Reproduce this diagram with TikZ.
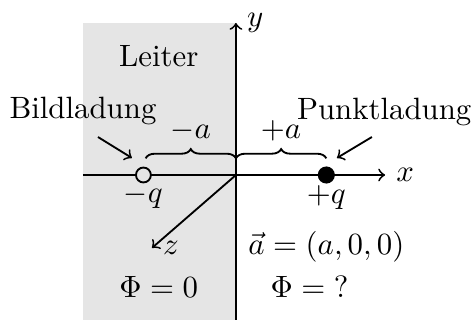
\documentclass[tikz,border=0pt]{standalone}
\usepackage{amsmath}
\usetikzlibrary{decorations.pathreplacing, positioning}

\begin{document}
\begin{tikzpicture}[
  axis/.style={->, semithick},
  leiter/.style={fill=gray!20},
  imgcharge/.style={circle, draw, semithick, fill=gray!20, inner sep=0pt, minimum size=0.17cm},
  ptcharge/.style={circle, fill=black, inner sep=0pt, minimum size=0.195cm},
  brc/.style={decorate, decoration={brace, amplitude=3pt}, semithick},
  pointer/.style={->, semithick},
]
  \useasboundingbox (-2.69,-1.653) rectangle (2.725,1.995);

  % conductor half space
  \fill[leiter] (-1.744,-1.653) rectangle (0,1.733);
  \node (leiter) at (-0.88,1.35) {Leiter};

  % axes
  \coordinate (O) at (0,0);
  \coordinate (xstart) at (-1.744,0);
  \coordinate (xend) at (1.70,0);
  \coordinate (ystart) at (0,-1.653);
  \coordinate (yend) at (0,1.733);
  \coordinate (zend) at (-0.958,-0.832);
  \draw[axis] (xstart) -- (xend) node[right] (xlab) {$x$};
  \draw[axis] (ystart) -- (yend) node[right] (ylab) {$y$};
  \draw[axis] (O) -- (zend) node[right] (zlab) {$z$};

  % charges
  \node[imgcharge] (imgq) at (-1.055,0) {};
  \node[ptcharge] (ptq) at (1.03,0) {};
  \node[below=0.01cm of imgq, inner sep=0pt] (imgqlab) {$-q$};
  \node[below=0.01cm of ptq, inner sep=0pt] (ptqlab) {$+q$};

  % distances
  \coordinate (bl) at (-1.03,0.19);
  \coordinate (bm) at (0,0.19);
  \coordinate (br) at (1.03,0.19);
  \draw[brc] (bl) -- node[above=2pt] (minusa) {$-a$} (bm);
  \draw[brc] (bm) -- node[above=2pt] (plusa) {$+a$} (br);

  % labels with pointers
  \node (bild) at (-1.744,0.73) {Bildladung};
  \node (punkt) at (1.69,0.72) {Punktladung};
  \coordinate (bildtip) at (-1.186,0.194);
  \coordinate (punkttip) at (1.151,0.194);
  \draw[pointer] (-1.573,0.433) -- (bildtip);
  \draw[pointer] (1.55,0.433) -- (punkttip);

  \node (avec) at (1.03,-0.82) {$\vec{a} = (a,0,0)$};
  \node (phil) at (-0.88,-1.28) {$\Phi = 0$};
  \node (phir) at (0.84,-1.28) {$\Phi = {?}$};
\end{tikzpicture}
\end{document}
